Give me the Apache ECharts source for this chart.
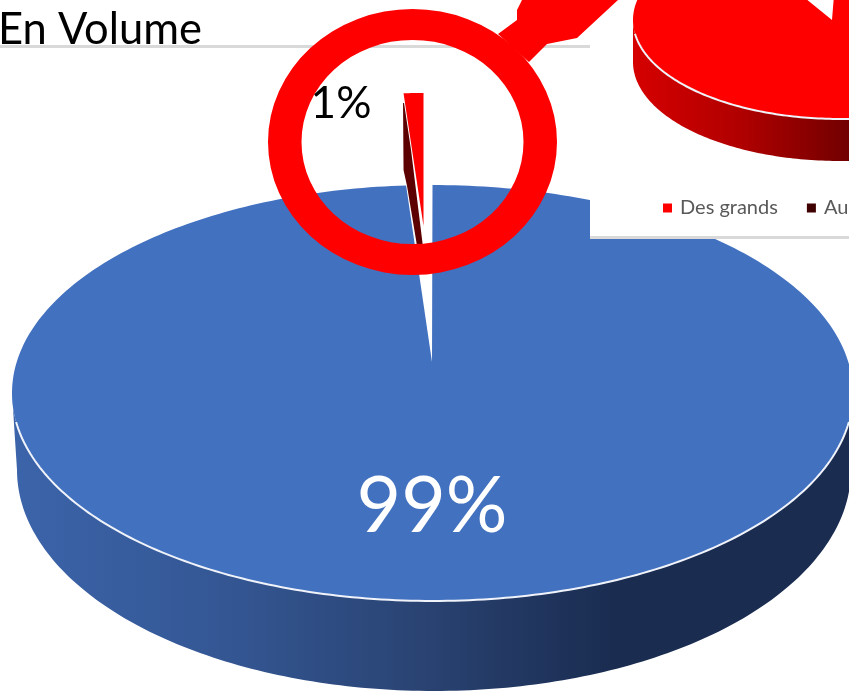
<!DOCTYPE html>
<html><head><meta charset="utf-8">
<style>html,body{margin:0;padding:0;background:#fff;overflow:hidden}#c{width:849px;height:691px}</style>
<script src="https://cdn.jsdelivr.net/npm/echarts@6/dist/echarts.min.js"></script>
</head><body><div id="c"></div>
<script>
// ---- values ----
const titleText = 'En Volume';
const legendNames = ['Des grands', 'Au'];
const volumeShares = [99, 1];     // blue slice, small exploded slice
const detailShares = [91, 9];     // enlarged red pie: full part, notch

// ---- layout ----
const BLUE = {cx:432.5, cy:393, rx:420.5, ry:208, bottomCx:434, bottomCy:470, bottomRx:417, bottomRy:221, apexX:432, apexY:362};
const SLICE = {apexX:423.5, apexY:226, rx:318, ry:133};
const RED = {cx:840, cy:20, rx:207, ry:99, bottomCx:840, bottomCy:62, bottomRx:207, bottomRy:99, apexX:832, apexY:20};

const chart = echarts.init(document.getElementById('c'), null, {renderer:'canvas'});
const rad = d => d * Math.PI / 180;
function arc(cx, cy, rx, ry, a0, a1, step) {
  const pts = [], n = Math.max(2, Math.ceil(Math.abs(a1 - a0) / (step || 1)));
  for (let i = 0; i <= n; i++) {
    const a = rad(a0 + (a1 - a0) * i / n);
    pts.push([cx + rx * Math.sin(a), cy - ry * Math.cos(a)]);
  }
  return pts;
}
const shareToDeg = (v, all) => v / all * 360;
function grad(x0, x1, stops) {
  return new echarts.graphic.LinearGradient(x0, 0, x1, 0, stops, true);
}

function pieBody(G, sweep, wall, topFill) {
  const wallPts = arc(G.cx, G.cy, G.rx, G.ry, 90, 270).concat(arc(G.bottomCx, G.bottomCy, G.bottomRx, G.bottomRy, 270, 90));
  return [
    {type:'polygon', shape:{points:wallPts}, style:{fill:wall}},
    {type:'polygon', shape:{points:[[G.apexX, G.apexY]].concat(arc(G.cx, G.cy, G.rx, G.ry, 0, sweep))}, style:{fill:topFill}},
    {type:'polyline', shape:{points:arc(G.cx, G.cy, G.rx, G.ry, 98, 262)}, style:{stroke:'#f0f3f9', lineWidth:2, fill:null}}
  ];
}

const option = {
  animation: false,
  backgroundColor: '#ffffff',
  title: {text:titleText, left:-2, top:8, textStyle:{fontFamily:'Lato', fontWeight:400, fontSize:43.5, color:'#000'}, padding:0},
  legend: {
    left:663, top:198, width:400, padding:0, itemWidth:9, itemHeight:9, itemGap:29, z:20, selectedMode:false,
    textStyle:{fontFamily:'Lato', fontSize:20, color:'#595959', padding:[0,0,0,3]},
    data:[
      {name:legendNames[0], icon:'rect', itemStyle:{color:'#ff0000'}},
      {name:legendNames[1], icon:'rect', itemStyle:{color:'#3f0000'}}
    ]
  },
  graphic: {elements:[
    {type:'rect', z:5, shape:{x:0,y:45,width:590,height:3}, style:{fill:'#d9d9d9'}},
    {type:'rect', z:6, shape:{x:590,y:0,width:259,height:236}, style:{fill:'#ffffff'}},
    {type:'rect', z:6, shape:{x:590,y:236,width:259,height:3}, style:{fill:'#d9d9d9'}},
    {type:'polygon', z:15, shape:{points:[[498,34],[517,20],[517,10],[522,0],[618,0],[577,38],[547,44],[529,62]]}, style:{fill:'#ff0000'}},
    {type:'ring', z:15, x:412.5, y:142, scaleY:0.92, shape:{cx:0,cy:0,r:144.5,r0:111}, style:{fill:'#ff0000'}}
  ]},
  series: [
    {
      type:'custom', name:'Volume', coordinateSystem:'none', z:2, silent:true,
      data:[[volumeShares[0]]],
      renderItem(p, api) {
        const sweep = shareToDeg(api.value(0), volumeShares[0] + volumeShares[1]);
        const body = pieBody(BLUE, sweep, grad(12, 849, [
          {offset:0,color:'#3c64aa'},{offset:0.25,color:'#345794'},{offset:0.5,color:'#294271'},
          {offset:0.72,color:'#1a2c50'},{offset:1,color:'#1a2c50'}]), '#4271c0');
        return {type:'group', children:body.concat([
          {type:'text', style:{text:api.value(0)+'%', x:432, y:507, align:'center', verticalAlign:'middle',
            fill:'#fff', font:'400 77px Lato'}}])};
      }
    },
    {
      type:'custom', name:legendNames[1], coordinateSystem:'none', z:8, silent:true,
      itemStyle:{color:'#3f0000'},
      data:[[volumeShares[1]]],
      renderItem(p, api) {
        const sweep = shareToDeg(api.value(0), volumeShares[0] + volumeShares[1]);
        const lx = SLICE.apexX - SLICE.rx * Math.sin(rad(sweep));
        const ty = SLICE.apexY - SLICE.ry;
        return {type:'polygon', shape:{points:[
          [lx-0.5,ty+10],[lx+0.5,ty+10],[lx+7.5,ty+57],[SLICE.apexX-1,ty+150],[SLICE.apexX-0.5,ty+180],[SLICE.apexX-5,ty+180],
          [lx+13,ty+150],[lx+3.5,ty+93],[lx,ty+77]]}, style:{fill:'#5c0000'}};
      }
    },
    {
      type:'custom', name:legendNames[0], coordinateSystem:'none', z:9, silent:true,
      itemStyle:{color:'#ff0000'},
      data:[[volumeShares[1]]],
      renderItem(p, api) {
        const sweep = shareToDeg(api.value(0), volumeShares[0] + volumeShares[1]);
        return {type:'group', children:[
          {type:'polygon', shape:{points:[[SLICE.apexX, SLICE.apexY]].concat(arc(SLICE.apexX, SLICE.apexY, SLICE.rx, SLICE.ry, 0, -sweep, 0.5))}, style:{fill:'#ff0000'}},
          {type:'text', style:{text:api.value(0)+'%', x:341, y:104, align:'center', verticalAlign:'middle', fill:'#000', font:'400 44px Lato'}}
        ]};
      }
    },
    {
      type:'custom', name:'Detail', coordinateSystem:'none', z:10, silent:true,
      data:[[detailShares[0]]],
      renderItem(p, api) {
        const sweep = shareToDeg(api.value(0), detailShares[0] + detailShares[1]);
        const body = pieBody(RED, sweep, grad(633, 849, [{offset:0,color:'#d60000'},{offset:0.5,color:'#b00000'},{offset:1,color:'#720000'}]), '#ff0000');
        return {type:'group', children:body};
      }
    }
  ]
};
chart.setOption(option);
</script></body></html>
